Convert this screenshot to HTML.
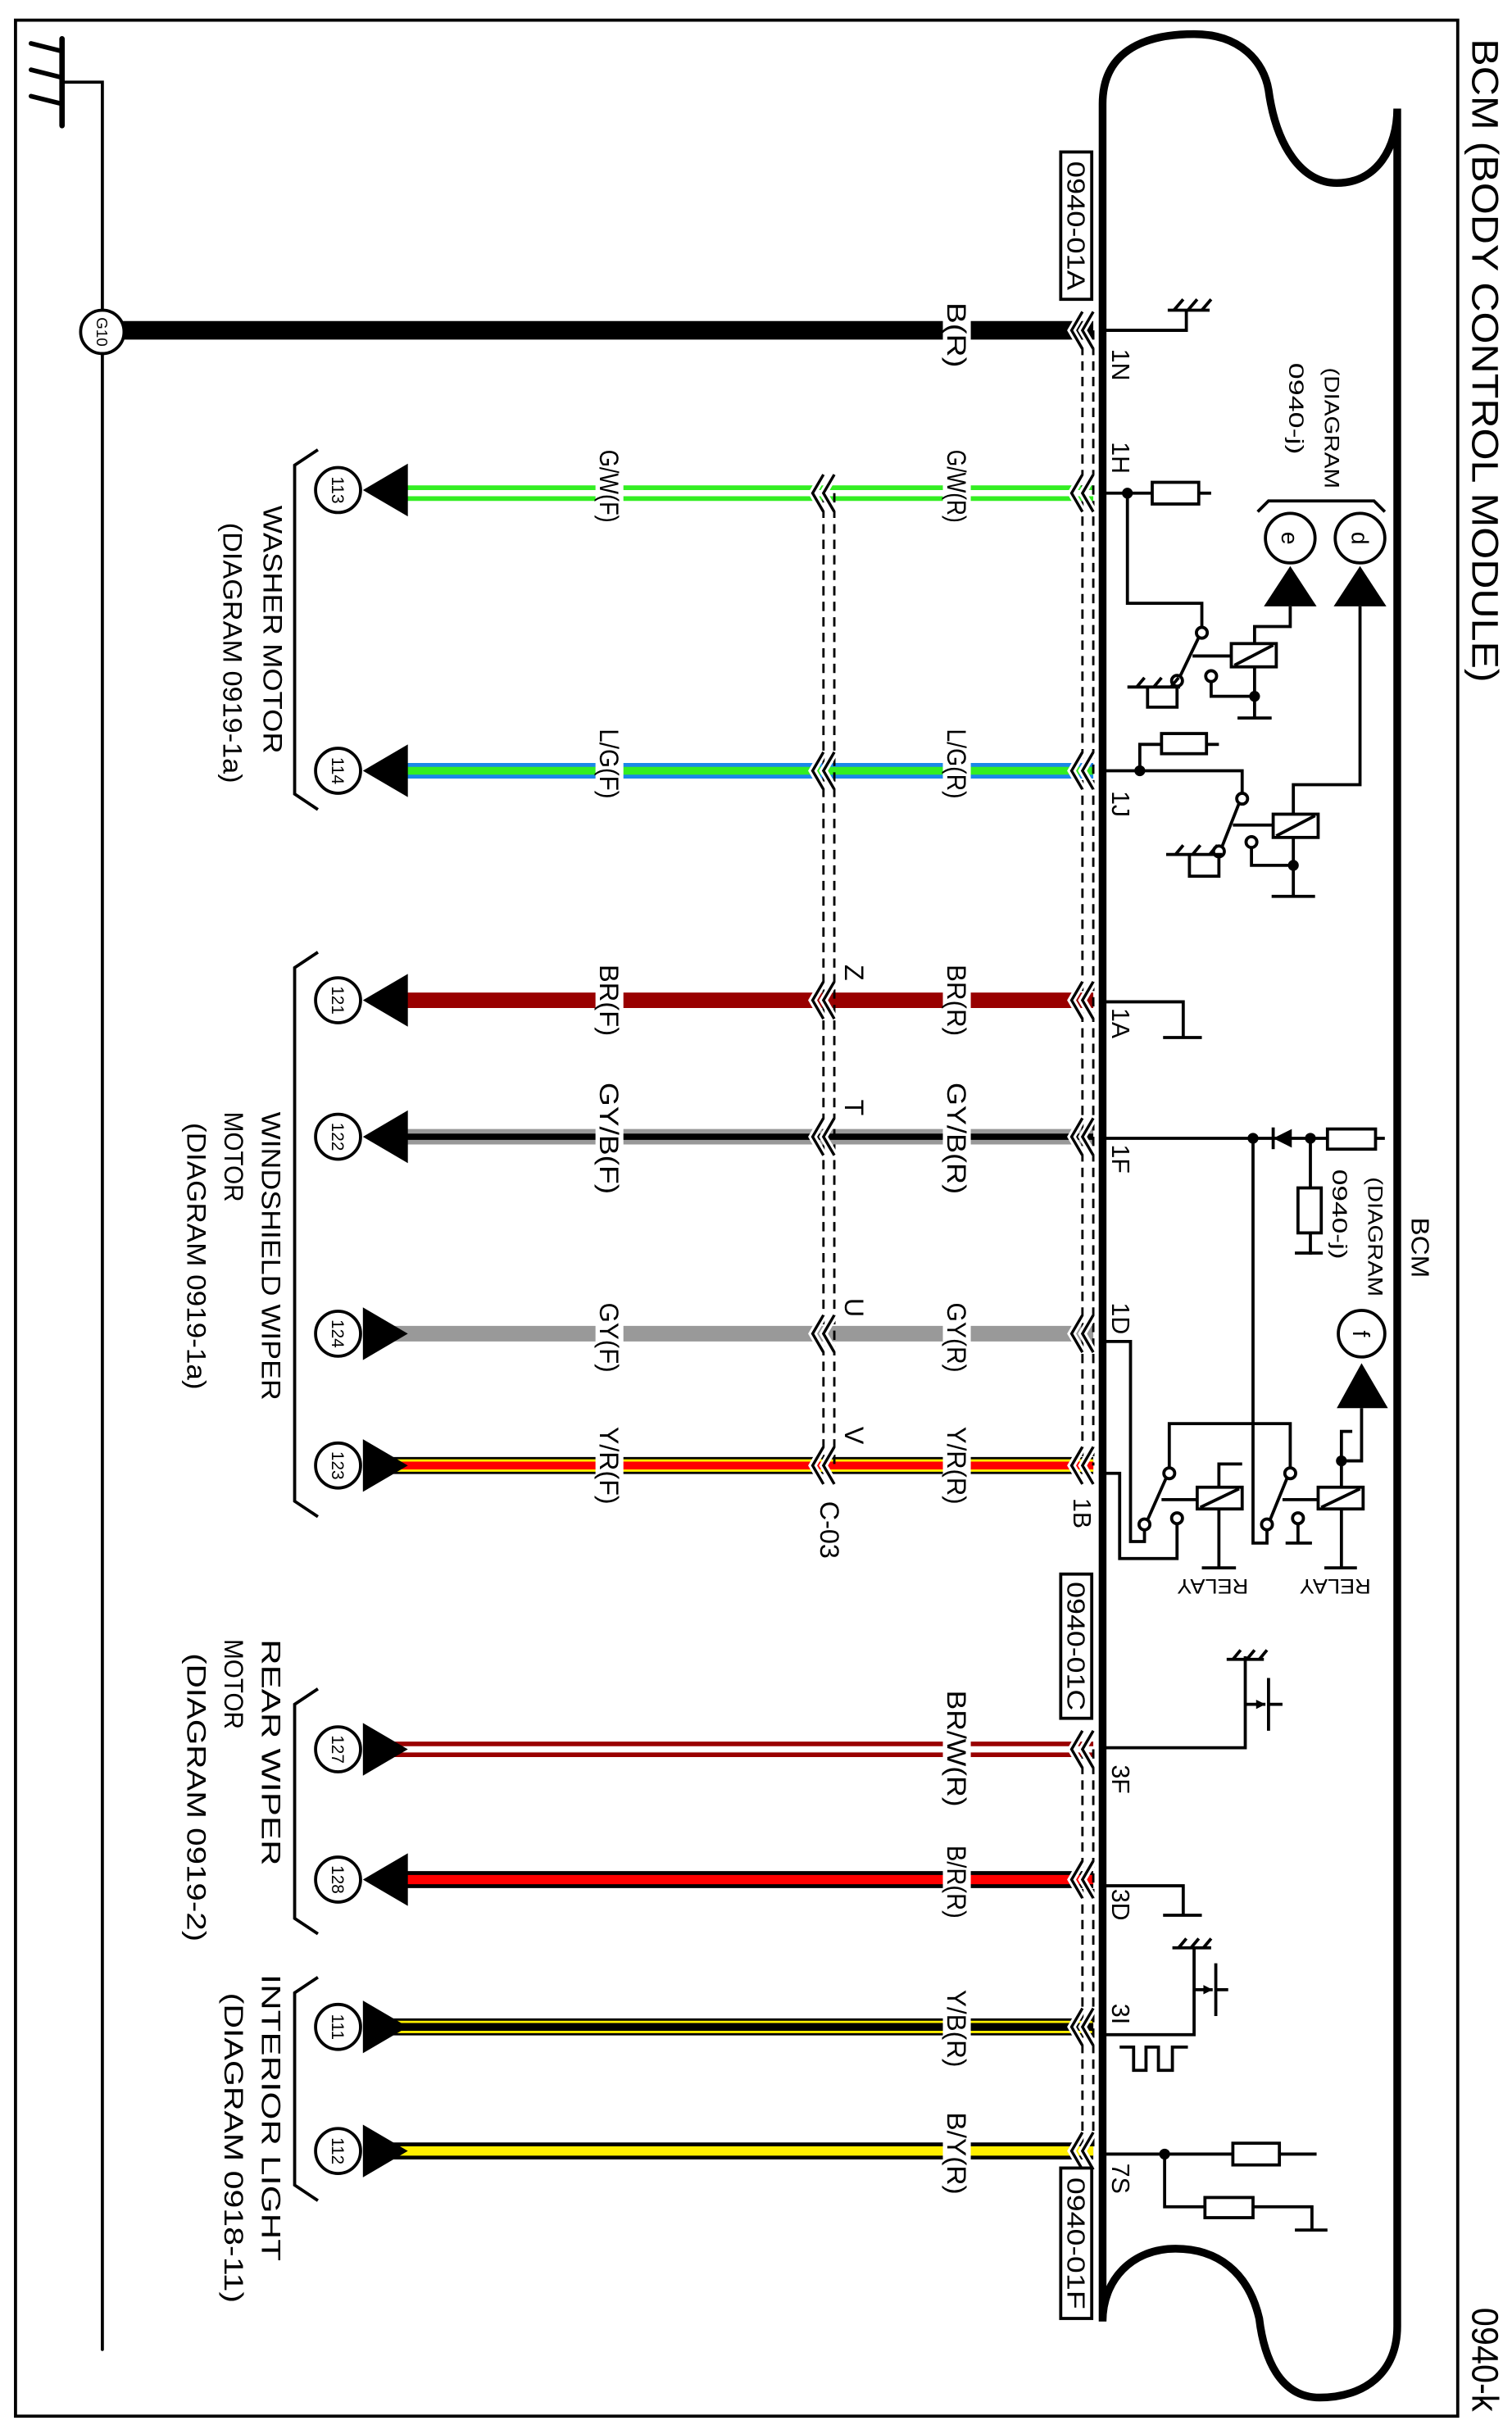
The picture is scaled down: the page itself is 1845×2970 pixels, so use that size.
<!DOCTYPE html>
<html><head><meta charset="utf-8"><style>
html,body{margin:0;padding:0;background:#fff;}
svg{display:block;}
text{font-family:"Liberation Sans",sans-serif;fill:#000;}
</style></head><body>
<svg width="1845" height="2970" viewBox="0 0 975 1569.5" preserveAspectRatio="none" xmlns="http://www.w3.org/2000/svg">
<defs>
<g id="chev" fill="none">
<polyline points="698,-12 691,0 698,12" stroke="#fff" stroke-width="5"/>
<polyline points="705,-12 698,0 705,12" stroke="#fff" stroke-width="5"/>
<polyline points="698,-12 691,0 698,12" stroke="#000" stroke-width="1.8"/>
<polyline points="705,-12 698,0 705,12" stroke="#000" stroke-width="1.8"/>
</g>
<g id="mchev" fill="none">
<polyline points="531,-12 524,0 531,12" stroke="#fff" stroke-width="5"/>
<polyline points="538,-12 531,0 538,12" stroke="#fff" stroke-width="5"/>
<polyline points="531,-12 524,0 531,12" stroke="#000" stroke-width="1.8"/>
<polyline points="538,-12 531,0 538,12" stroke="#000" stroke-width="1.8"/>
</g>
<g id="arL"><polygon points="234,0 263,-17 263,17" fill="#000"/></g>
<g id="arR"><polygon points="263,0 234,-17 234,17" fill="#000"/></g>
</defs>
<rect x="0" y="0" width="975" height="1570" fill="#fff"/>
<rect x="10" y="13" width="930" height="1545" fill="none" stroke="#000" stroke-width="2"/>
<text transform="translate(958,25) rotate(90)" dy="0.36em" font-size="24" textLength="415" lengthAdjust="spacingAndGlyphs">BCM (BODY CONTROL MODULE)</text>
<text transform="translate(958,1488) rotate(90)" dy="0.36em" font-size="24" textLength="67" lengthAdjust="spacingAndGlyphs">0940-k</text>

<g stroke="#000" stroke-linecap="round" fill="none">
<line x1="40" y1="25" x2="40" y2="81" stroke-width="3.5"/>
<line x1="20" y1="28" x2="40" y2="33" stroke-width="3"/>
<line x1="20" y1="45" x2="40" y2="50" stroke-width="3"/>
<line x1="20" y1="62" x2="40" y2="67" stroke-width="3"/>
<polyline points="40,53 66,53 66,1515" stroke-width="2"/>
</g>
<line x1="78" y1="213" x2="705" y2="213" stroke="#000" stroke-width="12"/>
<circle cx="66" cy="214" r="14" fill="#fff" stroke="#000" stroke-width="2"/>
<text transform="translate(66,214) rotate(90)" dy="0.36em" font-size="10" text-anchor="middle">G10</text>

<g fill="none">
<line x1="262" y1="314.5" x2="705" y2="314.5" stroke="#33ee22" stroke-width="3"/>
<line x1="262" y1="321.5" x2="705" y2="321.5" stroke="#33ee22" stroke-width="3"/>
<line x1="262" y1="497" x2="705" y2="497" stroke="#1a88e8" stroke-width="10"/>
<line x1="262" y1="497" x2="705" y2="497" stroke="#33ee22" stroke-width="5"/>
<line x1="262" y1="645" x2="705" y2="645" stroke="#990000" stroke-width="10"/>
<line x1="262" y1="733" x2="705" y2="733" stroke="#999" stroke-width="10"/>
<line x1="262" y1="733" x2="705" y2="733" stroke="#000" stroke-width="4"/>
<line x1="250" y1="860" x2="705" y2="860" stroke="#999" stroke-width="10"/>
<line x1="250" y1="945" x2="705" y2="945" stroke="#000" stroke-width="11"/>
<line x1="250" y1="945" x2="705" y2="945" stroke="#ffee00" stroke-width="8"/>
<line x1="250" y1="945" x2="705" y2="945" stroke="#ff0000" stroke-width="5"/>
<line x1="250" y1="1124.5" x2="705" y2="1124.5" stroke="#990000" stroke-width="3"/>
<line x1="250" y1="1131.5" x2="705" y2="1131.5" stroke="#990000" stroke-width="3"/>
<line x1="262" y1="1212" x2="705" y2="1212" stroke="#000" stroke-width="11"/>
<line x1="262" y1="1212" x2="705" y2="1212" stroke="#ff0000" stroke-width="6"/>
<line x1="250" y1="1307" x2="705" y2="1307" stroke="#000" stroke-width="11"/>
<line x1="250" y1="1307" x2="705" y2="1307" stroke="#ffee00" stroke-width="8"/>
<line x1="250" y1="1307" x2="705" y2="1307" stroke="#000" stroke-width="5"/>
<line x1="250" y1="1387" x2="705" y2="1387" stroke="#000" stroke-width="11"/>
<line x1="250" y1="1387" x2="705" y2="1387" stroke="#ffee00" stroke-width="6"/>
</g>

<g fill="#fff">
<rect x="608" y="195" width="18" height="42"/>
<rect x="608" y="290" width="18" height="48"/><rect x="384" y="290" width="18" height="48"/>
<rect x="608" y="470" width="18" height="46"/><rect x="384" y="470" width="18" height="46"/>
<rect x="608" y="622" width="18" height="47"/><rect x="384" y="622" width="18" height="47"/>
<rect x="608" y="698" width="18" height="73"/><rect x="384" y="698" width="18" height="73"/>
<rect x="608" y="840" width="18" height="46"/><rect x="384" y="840" width="18" height="46"/>
<rect x="608" y="920" width="18" height="51"/><rect x="384" y="920" width="18" height="51"/>
<rect x="608" y="1090" width="18" height="76"/>
<rect x="608" y="1190" width="18" height="48"/>
<rect x="608" y="1283" width="18" height="51"/>
<rect x="608" y="1362" width="18" height="54"/>
</g>
<g font-size="17">
<text transform="translate(617,195) rotate(90)" dy="0.36em" textLength="42" lengthAdjust="spacingAndGlyphs">B(R)</text>
<text transform="translate(617,290) rotate(90)" dy="0.36em" textLength="47" lengthAdjust="spacingAndGlyphs">G/W(R)</text>
<text transform="translate(393,290) rotate(90)" dy="0.36em" textLength="47" lengthAdjust="spacingAndGlyphs">G/W(F)</text>
<text transform="translate(617,470) rotate(90)" dy="0.36em" textLength="45" lengthAdjust="spacingAndGlyphs">L/G(R)</text>
<text transform="translate(393,470) rotate(90)" dy="0.36em" textLength="45" lengthAdjust="spacingAndGlyphs">L/G(F)</text>
<text transform="translate(617,622) rotate(90)" dy="0.36em" textLength="46" lengthAdjust="spacingAndGlyphs">BR(R)</text>
<text transform="translate(393,622) rotate(90)" dy="0.36em" textLength="46" lengthAdjust="spacingAndGlyphs">BR(F)</text>
<text transform="translate(617,698) rotate(90)" dy="0.36em" textLength="72" lengthAdjust="spacingAndGlyphs">GY/B(R)</text>
<text transform="translate(393,698) rotate(90)" dy="0.36em" textLength="72" lengthAdjust="spacingAndGlyphs">GY/B(F)</text>
<text transform="translate(617,840) rotate(90)" dy="0.36em" textLength="45" lengthAdjust="spacingAndGlyphs">GY(R)</text>
<text transform="translate(393,840) rotate(90)" dy="0.36em" textLength="45" lengthAdjust="spacingAndGlyphs">GY(F)</text>
<text transform="translate(617,920) rotate(90)" dy="0.36em" textLength="50" lengthAdjust="spacingAndGlyphs">Y/R(R)</text>
<text transform="translate(393,920) rotate(90)" dy="0.36em" textLength="50" lengthAdjust="spacingAndGlyphs">Y/R(F)</text>
<text transform="translate(617,1090) rotate(90)" dy="0.36em" textLength="75" lengthAdjust="spacingAndGlyphs">BR/W(R)</text>
<text transform="translate(617,1190) rotate(90)" dy="0.36em" textLength="47" lengthAdjust="spacingAndGlyphs">B/R(R)</text>
<text transform="translate(617,1283) rotate(90)" dy="0.36em" textLength="50" lengthAdjust="spacingAndGlyphs">Y/B(R)</text>
<text transform="translate(617,1362) rotate(90)" dy="0.36em" textLength="53" lengthAdjust="spacingAndGlyphs">B/Y(R)</text>
<text transform="translate(551,622) rotate(90)" dy="0.36em">Z</text>
<text transform="translate(551,709) rotate(90)" dy="0.36em">T</text>
<text transform="translate(551,837) rotate(90)" dy="0.36em">U</text>
<text transform="translate(551,920) rotate(90)" dy="0.36em">V</text>
<text transform="translate(535,968) rotate(90)" dy="0.36em" textLength="37" lengthAdjust="spacingAndGlyphs">C-03</text>
</g>

<g stroke="#000" stroke-width="1.5" stroke-dasharray="6 4" fill="none">
<line x1="698" y1="213" x2="698" y2="945"/><line x1="705" y1="213" x2="705" y2="945"/>
<line x1="698" y1="1128" x2="698" y2="1387"/><line x1="705" y1="1128" x2="705" y2="1387"/>
<line x1="531" y1="318" x2="531" y2="945"/><line x1="538" y1="318" x2="538" y2="945"/>
</g>
<use href="#chev" y="213"/><use href="#chev" y="318"/><use href="#chev" y="497"/><use href="#chev" y="645"/>
<use href="#chev" y="733"/><use href="#chev" y="860"/><use href="#chev" y="945"/><use href="#chev" y="1128"/>
<use href="#chev" y="1212"/><use href="#chev" y="1307"/><use href="#chev" y="1387"/>
<use href="#mchev" y="318"/><use href="#mchev" y="497"/><use href="#mchev" y="645"/><use href="#mchev" y="733"/>
<use href="#mchev" y="860"/><use href="#mchev" y="945"/>

<g fill="#fff" stroke="#000" stroke-width="2">
<rect x="684" y="98" width="20" height="95"/>
<rect x="684" y="1015" width="20" height="93"/>
<rect x="684" y="1398" width="20" height="97"/>
</g>
<g font-size="16">
<text transform="translate(694,104) rotate(90)" dy="0.36em" textLength="83" lengthAdjust="spacingAndGlyphs">0940-01A</text>
<text transform="translate(694,1020) rotate(90)" dy="0.36em" textLength="83" lengthAdjust="spacingAndGlyphs">0940-01C</text>
<text transform="translate(694,1404) rotate(90)" dy="0.36em" textLength="85" lengthAdjust="spacingAndGlyphs">0940-01F</text>
</g>

<use href="#arL" y="316"/><use href="#arL" y="497"/><use href="#arL" y="645"/><use href="#arL" y="733"/>
<use href="#arR" y="860"/><use href="#arR" y="945"/><use href="#arR" y="1128"/><use href="#arL" y="1212"/>
<use href="#arR" y="1307"/><use href="#arR" y="1387"/>
<g fill="#fff" stroke="#000" stroke-width="2">
<circle cx="218" cy="316" r="14.5"/><circle cx="218" cy="497" r="14.5"/><circle cx="218" cy="645" r="14.5"/>
<circle cx="218" cy="733" r="14.5"/><circle cx="218" cy="860" r="14.5"/><circle cx="218" cy="945" r="14.5"/>
<circle cx="218" cy="1128" r="14.5"/><circle cx="218" cy="1212" r="14.5"/><circle cx="218" cy="1307" r="14.5"/>
<circle cx="218" cy="1387" r="14.5"/>
</g>
<g font-size="11" text-anchor="middle">
<text transform="translate(218,316) rotate(90)" dy="0.36em">113</text>
<text transform="translate(218,497) rotate(90)" dy="0.36em">114</text>
<text transform="translate(218,645) rotate(90)" dy="0.36em">121</text>
<text transform="translate(218,733) rotate(90)" dy="0.36em">122</text>
<text transform="translate(218,860) rotate(90)" dy="0.36em">124</text>
<text transform="translate(218,945) rotate(90)" dy="0.36em">123</text>
<text transform="translate(218,1128) rotate(90)" dy="0.36em">127</text>
<text transform="translate(218,1212) rotate(90)" dy="0.36em">128</text>
<text transform="translate(218,1307) rotate(90)" dy="0.36em">111</text>
<text transform="translate(218,1387) rotate(90)" dy="0.36em">112</text>
</g>

<g fill="none" stroke="#000" stroke-width="2">
<polyline points="205,290 190,300 190,512 205,522"/>
<polyline points="205,614 190,624 190,968 205,978"/>
<polyline points="205,1089 190,1099 190,1237 205,1247"/>
<polyline points="205,1275 190,1285 190,1409 205,1419"/>
</g>
<g font-size="17">
<text transform="translate(176,326) rotate(90)" dy="0.36em" textLength="160" lengthAdjust="spacingAndGlyphs">WASHER MOTOR</text>
<text transform="translate(150,337) rotate(90)" dy="0.36em" textLength="168" lengthAdjust="spacingAndGlyphs">(DIAGRAM 0919-1a)</text>
<text transform="translate(175,717) rotate(90)" dy="0.36em" textLength="186" lengthAdjust="spacingAndGlyphs">WINDSHIELD WIPER</text>
<text transform="translate(151,717) rotate(90)" dy="0.36em" textLength="58" lengthAdjust="spacingAndGlyphs">MOTOR</text>
<text transform="translate(127,724) rotate(90)" dy="0.36em" textLength="172" lengthAdjust="spacingAndGlyphs">(DIAGRAM 0919-1a)</text>
<text transform="translate(175,1057) rotate(90)" dy="0.36em" textLength="146" lengthAdjust="spacingAndGlyphs">REAR WIPER</text>
<text transform="translate(151,1057) rotate(90)" dy="0.36em" textLength="58" lengthAdjust="spacingAndGlyphs">MOTOR</text>
<text transform="translate(127,1066) rotate(90)" dy="0.36em" textLength="186" lengthAdjust="spacingAndGlyphs">(DIAGRAM 0919-2)</text>
<text transform="translate(175,1273) rotate(90)" dy="0.36em" textLength="185" lengthAdjust="spacingAndGlyphs">INTERIOR LIGHT</text>
<text transform="translate(151,1285) rotate(90)" dy="0.36em" textLength="200" lengthAdjust="spacingAndGlyphs">(DIAGRAM 0918-11)</text>
</g>

<path d="M711,67 C711,35 735,22 770,22 C800,22 815,40 818,58 C823,95 840,118 862,118 C888,118 901,95 901,70 L901,1500 C901,1530 880,1546 851,1546 C825,1546 815,1520 812,1495 C805,1465 785,1450 758,1450 C730,1450 711,1470 711,1497 Z" fill="none" stroke="#000" stroke-width="5"/>

<g font-size="16">
<text transform="translate(723,225) rotate(90)" dy="0.36em">1N</text>
<text transform="translate(723,285) rotate(90)" dy="0.36em">1H</text>
<text transform="translate(723,510) rotate(90)" dy="0.36em">1J</text>
<text transform="translate(723,650) rotate(90)" dy="0.36em">1A</text>
<text transform="translate(723,738) rotate(90)" dy="0.36em">1F</text>
<text transform="translate(723,840) rotate(90)" dy="0.36em">1D</text>
<text transform="translate(698,966) rotate(90)" dy="0.36em">1B</text>
<text transform="translate(723,1138) rotate(90)" dy="0.36em">3F</text>
<text transform="translate(723,1218) rotate(90)" dy="0.36em">3D</text>
<text transform="translate(723,1292) rotate(90)" dy="0.36em">3I</text>
<text transform="translate(723,1395) rotate(90)" dy="0.36em">7S</text>
</g>

<g fill="none" stroke="#000" stroke-width="2">
<polyline points="711,213 765,213 765,200"/>
<line x1="753" y1="200" x2="780" y2="200"/>
<line x1="757" y1="200" x2="763" y2="193"/><line x1="766" y1="200" x2="772" y2="193"/><line x1="775" y1="200" x2="781" y2="193"/>
<line x1="711" y1="318" x2="743" y2="318"/>
<rect x="743" y="311" width="30" height="14"/>
<line x1="773" y1="318" x2="781" y2="318"/>
<polyline points="727,318 727,389 775,389 775,405"/>
<circle cx="775" cy="408" r="3.5"/>
<line x1="773" y1="411" x2="761" y2="436"/>
<circle cx="759" cy="439" r="3.5"/>
<circle cx="781" cy="436" r="3.5"/>
<line x1="769" y1="423" x2="794" y2="423"/>
<rect x="794" y="415" width="29" height="15"/>
<line x1="796" y1="429" x2="821" y2="416"/>
<polyline points="809,415 809,404 832,404 832,391"/>
<polyline points="809,430 809,463"/>
<line x1="798" y1="463" x2="820" y2="463"/>
<polyline points="781,440 781,449 809,449"/>
<polyline points="759,443 759,456 740,456 740,443"/>
<line x1="727" y1="443" x2="761" y2="443"/>
<line x1="733" y1="443" x2="738" y2="437"/><line x1="744" y1="443" x2="749" y2="437"/><line x1="755" y1="443" x2="760" y2="437"/>
<circle cx="832" cy="347" r="16"/>
<circle cx="877" cy="347" r="16"/>
<polyline points="811,330 818,323 886,323 893,330"/>
<polyline points="711,497 801,497 801,512"/>
<polyline points="735,497 735,480 749,480"/>
<rect x="749" y="473" width="29" height="13"/>
<line x1="778" y1="480" x2="786" y2="480"/>
<circle cx="801" cy="515" r="3.5"/>
<line x1="799" y1="518" x2="788" y2="546"/>
<circle cx="786" cy="549" r="3.5"/>
<circle cx="807" cy="543" r="3.5"/>
<line x1="795" y1="532" x2="821" y2="532"/>
<rect x="821" y="525" width="29" height="15"/>
<line x1="823" y1="539" x2="848" y2="526"/>
<polyline points="834,525 834,506 877,506 877,391"/>
<polyline points="834,540 834,578"/>
<line x1="820" y1="578" x2="848" y2="578"/>
<polyline points="807,547 807,558 834,558"/>
<polyline points="786,553 786,565 767,565 767,551"/>
<line x1="752" y1="551" x2="788" y2="551"/>
<line x1="758" y1="551" x2="763" y2="545"/><line x1="769" y1="551" x2="774" y2="545"/><line x1="780" y1="551" x2="785" y2="545"/>
<polyline points="711,646 763,646 763,669"/>
<line x1="750" y1="669" x2="775" y2="669"/>
<line x1="711" y1="734" x2="893" y2="734"/>
<rect x="856" y="728" width="31" height="13" fill="#fff"/>
<line x1="821" y1="727" x2="821" y2="741"/>
<polyline points="845,734 845,809"/>
<rect x="837" y="766" width="15" height="29" fill="#fff"/>
<line x1="835" y1="808" x2="853" y2="808"/>
<polyline points="808,734 808,995 817,995 817,986"/>
<circle cx="754" cy="950" r="3.5"/>
<polyline points="754,946 754,918 832,918 832,946"/>
<circle cx="832" cy="950" r="3.5"/>
<line x1="752" y1="953" x2="740" y2="980"/>
<circle cx="738" cy="983" r="3.5"/>
<circle cx="759" cy="979" r="3.5"/>
<line x1="749" y1="967" x2="772" y2="967"/>
<rect x="772" y="959" width="29" height="14"/>
<line x1="774" y1="972" x2="799" y2="960"/>
<polyline points="786,959 786,944 801,944"/>
<line x1="786" y1="973" x2="786" y2="1011"/>
<line x1="775" y1="1011" x2="797" y2="1011"/>
<line x1="830" y1="953" x2="819" y2="980"/>
<circle cx="817" cy="983" r="3.5"/>
<circle cx="837" cy="979" r="3.5"/>
<polyline points="837,983 837,995"/>
<line x1="829" y1="995" x2="846" y2="995"/>
<line x1="827" y1="967" x2="850" y2="967"/>
<rect x="850" y="959" width="29" height="14"/>
<line x1="852" y1="972" x2="877" y2="960"/>
<polyline points="865,959 865,923 872,923"/>
<polyline points="865,942 878,942 878,908"/>
<line x1="865" y1="973" x2="865" y2="1011"/>
<line x1="854" y1="1011" x2="875" y2="1011"/>
<circle cx="878" cy="860" r="15"/>
<polyline points="711,865 729,865 729,994 738,994 738,987"/>
<polyline points="711,950 722,950 722,1005 759,1005 759,983"/>
<polyline points="711,1127 803,1127 803,1109 803,1068"/>
<line x1="791" y1="1070" x2="815" y2="1070"/>
<line x1="795" y1="1070" x2="800" y2="1064"/><line x1="804" y1="1070" x2="809" y2="1064"/><line x1="812" y1="1070" x2="817" y2="1064"/>
<line x1="803" y1="1099" x2="816" y2="1099"/>
<line x1="818" y1="1082" x2="818" y2="1116"/>
<line x1="818" y1="1099" x2="827" y2="1099"/>
<polyline points="711,1216 763,1216 763,1235"/>
<line x1="750" y1="1235" x2="775" y2="1235"/>
<polyline points="711,1312 770,1312 770,1256"/>
<line x1="756" y1="1256" x2="781" y2="1256"/>
<line x1="760" y1="1256" x2="765" y2="1250"/><line x1="768" y1="1256" x2="773" y2="1250"/><line x1="776" y1="1256" x2="781" y2="1250"/>
<line x1="770" y1="1283" x2="782" y2="1283"/>
<line x1="784" y1="1266" x2="784" y2="1300"/>
<line x1="784" y1="1283" x2="792" y2="1283"/>
<polyline points="722,1320 731,1320 731,1335 739,1335 739,1320 747,1320 747,1335 756,1335 756,1320 766,1320"/>
<line x1="711" y1="1389" x2="849" y2="1389"/>
<rect x="795" y="1382" width="30" height="14" fill="#fff"/>
<polyline points="751,1389 751,1423 777,1423"/>
<rect x="777" y="1417" width="31" height="13"/>
<polyline points="808,1423 846,1423 846,1438"/>
<line x1="835" y1="1438" x2="856" y2="1438"/>
</g>
<g fill="#000">
<circle cx="727" cy="318" r="3.5"/><circle cx="809" cy="449" r="3.5"/>
<circle cx="735" cy="497" r="3.5"/><circle cx="834" cy="558" r="3.5"/>
<circle cx="808" cy="734" r="3.5"/><circle cx="845" cy="734" r="3.5"/>
<circle cx="865" cy="942" r="3.5"/><circle cx="751" cy="1389" r="3.5"/>
<polygon points="832,365 815,391 849,391"/>
<polygon points="877,365 860,391 894,391"/>
<polygon points="878,879 862,908 895,908"/>
<polygon points="821,734 833,728 833,740"/>
<polygon points="816,1099 810,1096 810,1102"/>
<polygon points="782,1283 776,1280 776,1286"/>
</g>
<g font-size="13">
<text transform="translate(832,347) rotate(90)" dy="0.36em" text-anchor="middle" font-size="15">e</text>
<text transform="translate(877,347) rotate(90)" dy="0.36em" text-anchor="middle" font-size="15">d</text>
<text transform="translate(878,860) rotate(90)" dy="0.36em" text-anchor="middle" font-size="15">f</text>
<text transform="translate(859,237) rotate(90)" dy="0.36em" textLength="78" lengthAdjust="spacingAndGlyphs">(DIAGRAM</text>
<text transform="translate(836,234) rotate(90)" dy="0.36em" textLength="59" lengthAdjust="spacingAndGlyphs">0940-j)</text>
<text transform="translate(887,759) rotate(90)" dy="0.36em" textLength="77" lengthAdjust="spacingAndGlyphs">(DIAGRAM</text>
<text transform="translate(864,754) rotate(90)" dy="0.36em" textLength="58" lengthAdjust="spacingAndGlyphs">0940-j)</text>
<text transform="translate(916,785) rotate(90)" dy="0.36em" font-size="16" textLength="39" lengthAdjust="spacingAndGlyphs">BCM</text>
<text transform="translate(782,1023) rotate(180)" dy="0.36em" text-anchor="middle" textLength="46" lengthAdjust="spacingAndGlyphs">RELAY</text>
<text transform="translate(861,1023) rotate(180)" dy="0.36em" text-anchor="middle" textLength="46" lengthAdjust="spacingAndGlyphs">RELAY</text>
</g>
</svg>
</body></html>
